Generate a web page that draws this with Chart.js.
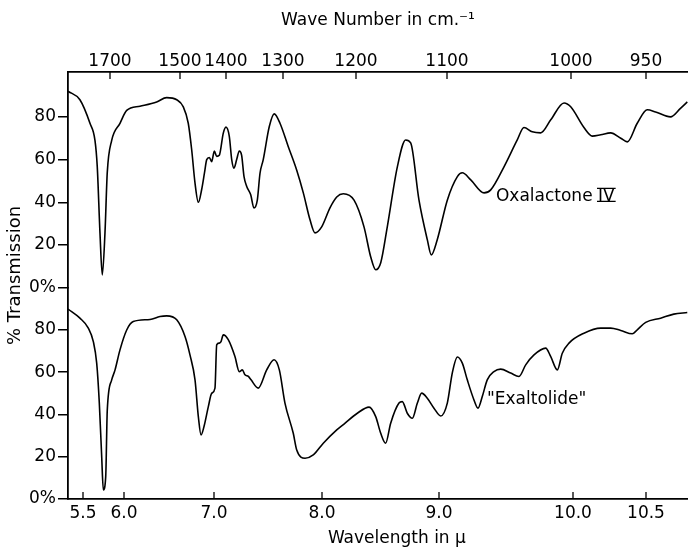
<!DOCTYPE html>
<html>
<head>
<meta charset="utf-8">
<script src="https://cdn.jsdelivr.net/npm/chart.js@4/dist/chart.umd.min.js"></script>
<style>
  html, body { margin: 0; padding: 0; background: #fff; }
  canvas { display: block; }
</style>
</head>
<body>
<canvas id="irChart" width="688" height="551"></canvas>
<script>
// wavelength (micron) / % transmission
const OXA_WL = [5.32, 5.463, 5.585, 5.646, 5.674, 5.707, 5.735, 5.768, 5.796, 5.850, 5.951, 6.030, 6.178, 6.363, 6.474, 6.586, 6.659, 6.714, 6.752, 6.789,
  6.826, 6.863, 6.895, 6.919, 6.948, 6.974, 7.003, 7.025, 7.049, 7.086, 7.111, 7.142, 7.164, 7.185, 7.210, 7.234, 7.256, 7.278, 7.303, 7.340,
  7.370, 7.401, 7.426, 7.456, 7.512, 7.558, 7.611, 7.688, 7.766, 7.827, 7.889, 7.935, 7.997, 8.068, 8.126, 8.182, 8.274, 8.359, 8.416,
  8.459, 8.502, 8.558, 8.644, 8.715, 8.758, 8.829, 8.900, 8.934, 8.985, 9.062, 9.137, 9.174, 9.237, 9.336, 9.386, 9.485, 9.584, 9.634, 9.696,
  9.759, 9.834, 9.933, 9.983, 10.075, 10.132, 10.190, 10.258, 10.327, 10.372, 10.440, 10.509, 10.566, 10.669, 10.738, 10.785];
const OXA_T = [92, 88, 77, 69, 56.6, 25.7, 6, 25.7, 54, 69, 77, 83, 85, 87, 89, 88, 84.7, 77, 64.6, 49,
  40, 46, 54, 60, 61, 59, 64, 61.5, 62, 72.4, 75.2, 70.8, 60, 56, 60, 64, 62, 52, 47.4, 43.5,
  37.3, 41, 53.6, 60, 75.5, 81.4, 77, 66, 55, 44.4, 31.8, 25.7, 28.5, 37.4, 42.5, 44, 41, 28.5, 14.5,
  8.4, 11.7, 28.5, 56.6, 69.2, 67.8, 41, 22.5, 15.4, 22.5, 41, 52, 53.8, 50.5, 44.4, 45.8, 56.6, 69.2, 75, 73,
  72.5, 78.6, 86.5, 84.7, 75, 71, 71.6, 72.5, 70, 68.3, 77, 83.3, 82.3, 80, 84, 87];

const EXA_WL = [5.32, 5.463, 5.565, 5.626, 5.667, 5.699, 5.728, 5.748, 5.777, 5.796, 5.850, 5.890, 5.951, 6.030, 6.103, 6.289, 6.400, 6.474, 6.586, 6.678,
  6.733, 6.789, 6.826, 6.856, 6.889, 6.937, 6.974, 7.009, 7.025, 7.049, 7.065, 7.086, 7.132, 7.194, 7.234, 7.262, 7.287, 7.318, 7.343, 7.410,
  7.488, 7.556, 7.605, 7.657, 7.734, 7.766, 7.843, 7.919, 8.011, 8.126, 8.188, 8.302, 8.402, 8.459, 8.502, 8.544, 8.587, 8.658, 8.686,
  8.729, 8.772, 8.815, 8.852, 8.900, 8.957, 9.013, 9.062, 9.099, 9.137, 9.174, 9.211, 9.261, 9.291, 9.323, 9.360, 9.410, 9.460, 9.535, 9.597,
  9.647, 9.709, 9.796, 9.834, 9.883, 9.920, 9.970, 10.075, 10.190, 10.258, 10.327, 10.406, 10.440, 10.498, 10.601, 10.692, 10.785];
const EXA_T = [89.9, 85.6, 80.9, 74.5, 64.3, 45.4, 20, 4.3, 10.6, 42, 56.4, 61, 70.6, 80, 84, 85, 86.4, 86.7, 84.8, 76.9,
  68.2, 56.4, 39, 30.3, 34.3, 43.7, 50, 52.5, 73, 73.8, 74.5, 77.7, 75.4, 67.4, 60.3, 61.1, 58.8, 58, 56.4, 52.5,
  61.1, 65.9, 61.1, 45.4, 31.1, 23.2, 19.3, 20.9, 26.4, 32.7, 35.5, 40.6, 43.5, 39, 31.1, 26.4, 35.9, 45.4, 46.1,
  40.6, 38.2, 45.4, 50.1, 47.7, 43, 39.3, 45.4, 59.6, 67.2, 64.3, 56.4, 46.9, 43, 48.5, 56.4, 60.3, 61.5, 59.6, 58,
  63.5, 68.2, 71.4, 67.4, 61.1, 69, 73.8, 78.5, 80.9, 80.9, 79.8, 78.2, 80.1, 83.6, 85.6, 87.5, 88.3];

if (OXA_WL.length !== OXA_T.length || EXA_WL.length !== EXA_T.length) {
    throw new Error('series length mismatch');
}

// tick labels
const WL_TICKS = [5.5, 6, 7, 8, 9, 10, 10.5];
const WN_TICKS = [1700, 1500, 1400, 1300, 1200, 1100, 1000, 950];
const Y_TICKS = [0, 20, 40, 60, 80];

// the spectrometer chart is not linear in wavelength: calibration of the
// axis (value -> chart division, 620 divisions across) read from the ticks
const WL_CAL = [5.32, 5.5, 6, 7, 8, 9, 10, 10.5, 10.79];
const WL_DIV = [0, 15, 56, 146, 254, 371, 505, 578, 620];
const WN_CAL = [1830, 1700, 1500, 1400, 1300, 1200, 1100, 1000, 950, 922];
const WN_DIV = [0, 42, 112, 158, 215, 288, 379, 503, 578, 620];
const DIVS = 620;

const CAL = { x: [WL_CAL, WL_DIV], x2: [WN_CAL, WN_DIV] };
const FONT = 'DejaVu Sans';

function interp(xs, ys, v) {
    const n = xs.length;
    for (let i = 0; i < n - 1; i++) {
        const a = xs[i], b = xs[i + 1];
        if ((v >= a && v <= b) || (v <= a && v >= b)) {
            return ys[i] + (ys[i + 1] - ys[i]) * (v - a) / (b - a);
        }
    }
    // outside: extend the end segments
    const i = ((v - xs[0]) * (xs[1] - xs[0]) < 0) ? 0 : n - 2;
    return ys[i] + (ys[i + 1] - ys[i]) * (v - xs[i]) / (xs[i + 1] - xs[i]);
}

const BaseLinear = Chart.LinearScale || Chart.registry.getScale('linear');
class KnotScale extends BaseLinear {
    getPixelForValue(value) {
        const [vals, divs] = CAL[this.id];
        return this.getPixelForDecimal(interp(vals, divs, value) / DIVS);
    }
    getValueForPixel(pixel) {
        const [vals, divs] = CAL[this.id];
        return interp(divs, vals, this.getDecimalForPixel(pixel) * DIVS);
    }
}
KnotScale.id = 'knot';
Chart.register(KnotScale);

const setTicks = list => scale => { scale.ticks = list.map(v => ({ value: v })); };

const whiteBg = {
    id: 'whiteBg',
    beforeDraw(chart) {
        const ctx = chart.ctx;
        ctx.save();
        ctx.fillStyle = '#fff';
        ctx.fillRect(0, 0, chart.width, chart.height);
        ctx.restore();
    }
};

// ticks on both wavelength axes point into the plot
const innerTicks = {
    id: 'innerTicks',
    afterDraw(chart) {
        const ctx = chart.ctx;
        const xb = chart.scales.x, xt = chart.scales.x2;
        ctx.save();
        ctx.strokeStyle = '#000';
        ctx.lineWidth = 1.3;
        ctx.beginPath();
        xb.ticks.forEach(t => {
            const px = xb.getPixelForValue(t.value);
            ctx.moveTo(px, xb.top);
            ctx.lineTo(px, xb.top - 7);
        });
        xt.ticks.forEach(t => {
            const px = xt.getPixelForValue(t.value);
            ctx.moveTo(px, xt.bottom);
            ctx.lineTo(px, xt.bottom + 7);
        });
        ctx.stroke();
        ctx.restore();
    }
};

// curve names beside the traces, and the wavelength axis title
const texts = {
    id: 'texts',
    afterDatasetsDraw(chart) {
        const ctx = chart.ctx;
        const x = chart.scales.x;
        ctx.save();
        ctx.fillStyle = '#000';
        ctx.strokeStyle = '#000';
        ctx.font = '17px "' + FONT + '"';
        ctx.textAlign = 'left';
        ctx.textBaseline = 'alphabetic';

        const ox = x.getPixelForValue(9.425);
        const oy = chart.scales.yTop.getPixelForValue(43.5) + 6;
        ctx.fillText('Oxalactone IV', ox, oy);
        // bars over and under the roman numeral
        const x0 = ox + ctx.measureText('Oxalactone ').width - 1;
        const x1 = ox + ctx.measureText('Oxalactone IV').width + 1;
        ctx.lineWidth = 1.3;
        ctx.beginPath();
        ctx.moveTo(x0, oy - 12.5); ctx.lineTo(x1, oy - 12.5);
        ctx.moveTo(x0, oy + 0.5); ctx.lineTo(x1, oy + 0.5);
        ctx.stroke();

        ctx.fillText('"Exaltolide"', x.getPixelForValue(9.358), chart.scales.yBot.getPixelForValue(47.9) + 6);

        ctx.textAlign = 'center';
        ctx.fillText('Wavelength in µ', x.getPixelForValue(8.64), x.bottom - 8);
        ctx.restore();
    }
};

function yAxis(max, weight) {
    return {
        type: 'linear',
        position: 'left',
        stack: 'panels',
        stackWeight: weight,
        min: 0,
        max: max,
        afterBuildTicks: setTicks(Y_TICKS),
        afterFit: s => { s.width = 41.4; },
        ticks: {
            callback: v => v === 0 ? '0%' : String(v),
            font: { family: FONT, size: 17 },
            color: '#000',
            padding: 2
        },
        grid: { drawOnChartArea: false, tickLength: 10, color: '#000', lineWidth: 1.5 },
        border: { color: '#000', width: 1.8 }
    };
}

const pts = (xs, ys) => xs.map((v, i) => ({ x: v, y: ys[i] }));

new Chart(document.getElementById('irChart'), {
    type: 'line',
    data: {
        datasets: [
            { data: pts(OXA_WL, OXA_T), yAxisID: 'yTop', xAxisID: 'x', borderColor: '#000' },
            { data: pts(EXA_WL, EXA_T), yAxisID: 'yBot', xAxisID: 'x', borderColor: '#000' }
        ]
    },
    options: {
        responsive: false,
        animation: false,
        layout: { padding: 0 },
        datasets: {
            line: {
                borderWidth: 1.6,
                pointRadius: 0,
                fill: false,
                cubicInterpolationMode: 'monotone'
            }
        },
        plugins: {
            legend: { display: false },
            tooltip: { enabled: false },
            colors: { enabled: false },
            title: {
                display: true,
                position: 'left',
                text: '% Transmission',
                color: '#000',
                font: { family: FONT, size: 18, weight: 'normal' },
                padding: { top: 5, bottom: 0 }
            }
        },
        scales: {
            x: {
                type: 'knot',
                position: 'bottom',
                min: 5.32,
                max: 10.79,
                afterBuildTicks: setTicks(WL_TICKS),
                afterFit: s => { s.height = 52; },
                ticks: {
                    callback: v => v.toFixed(1),
                    autoSkip: false, maxRotation: 0, minRotation: 0,
                    padding: 4,
                    color: '#000',
                    font: { family: FONT, size: 17 }
                },
                grid: { display: false, drawTicks: false },
                border: { color: '#000', width: 1.8 }
            },
            x2: {
                type: 'knot',
                position: 'top',
                min: 922,
                max: 1830,
                afterBuildTicks: setTicks(WN_TICKS),
                afterFit: s => { s.height = 72; },
                ticks: {
                    callback: v => String(v),
                    autoSkip: false, maxRotation: 0, minRotation: 0,
                    padding: 0,
                    color: '#000',
                    font: { family: FONT, size: 17 }
                },
                grid: { display: false, drawTicks: false },
                border: { color: '#000', width: 1.8 },
                title: {
                    display: true,
                    text: 'Wave Number in cm.⁻¹',
                    color: '#000',
                    font: { family: FONT, size: 17 },
                    padding: { top: 10, bottom: 0 }
                }
            },
            yBot: yAxis(100, 211.5),
            yTop: yAxis(101, 216)
        }
    },
    plugins: [whiteBg, innerTicks, texts]
});
</script>
</body>
</html>
